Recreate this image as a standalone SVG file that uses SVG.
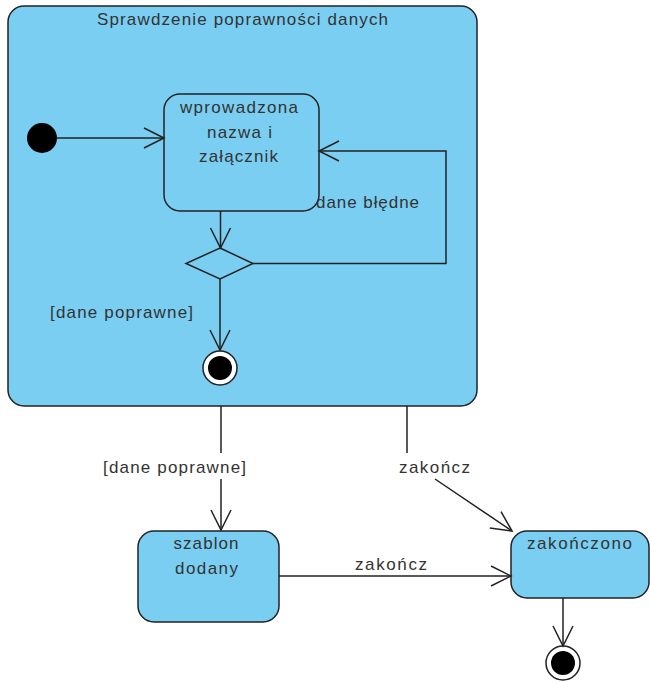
<svg xmlns="http://www.w3.org/2000/svg" width="650" height="683" viewBox="0 0 650 683">
  <style>
    .state { fill: #7ACEF2; stroke: #222; stroke-width: 1.5; }
    .edge { fill: none; stroke: #222; stroke-width: 1.5; }
    .txt { font-family: "Liberation Sans", Arial, sans-serif; font-size: 17px; fill: #333; }
    .c { text-anchor: middle; }
  </style>
  <defs>
    <marker id="arr" markerUnits="userSpaceOnUse" markerWidth="24" markerHeight="24" viewBox="-22 -12 24 24" refX="0" refY="0" orient="auto">
      <path d="M-20,-10 L0,0 L-20,10" fill="none" stroke="#222" stroke-width="1.5"/>
    </marker>
  </defs>
  <rect width="650" height="683" fill="#ffffff"/>

  <g id="composite">
    <rect class="state" x="8" y="6" width="469" height="400" rx="16" ry="16"/>
    <text class="txt c" x="242.5" y="25" textLength="291" lengthAdjust="spacing">Sprawdzenie poprawności danych</text>
  </g>

  <g id="initial">
    <circle cx="42" cy="138" r="15" fill="#000"/>
  </g>

  <g id="wprowadzona">
    <rect class="state" x="164" y="94" width="155" height="117" rx="16" ry="16"/>
    <text class="txt c" x="239" y="113" textLength="118" lengthAdjust="spacing">wprowadzona</text>
    <text class="txt c" x="239.5" y="138" textLength="65" lengthAdjust="spacing">nazwa i</text>
    <text class="txt c" x="238.5" y="162" textLength="79" lengthAdjust="spacing">załącznik</text>
  </g>

  <g id="decision">
    <polygon points="220,248 253,263.5 220,279 186,263.5" fill="#7ACEF2" stroke="#222" stroke-width="1.5"/>
  </g>

  <g id="final-inner">
    <circle cx="220" cy="368" r="17" fill="#fff" stroke="#222" stroke-width="1.5"/>
    <circle cx="220" cy="368" r="12" fill="#000"/>
  </g>

  <g id="szablon">
    <rect class="state" x="138" y="531" width="141" height="91" rx="16" ry="16"/>
    <text class="txt c" x="206" y="549" textLength="65" lengthAdjust="spacing">szablon</text>
    <text class="txt c" x="206.5" y="574" textLength="63" lengthAdjust="spacing">dodany</text>
  </g>

  <g id="zakonczono">
    <rect class="state" x="511" y="531" width="138" height="67" rx="16" ry="16"/>
    <text class="txt c" x="579.5" y="549" textLength="105" lengthAdjust="spacing">zakończono</text>
  </g>

  <g id="final-outer">
    <circle cx="563" cy="663" r="17" fill="#fff" stroke="#222" stroke-width="1.5"/>
    <circle cx="563" cy="663" r="12" fill="#000"/>
  </g>

  <g id="connectors">
    <line class="edge" x1="57" y1="138" x2="164" y2="138" marker-end="url(#arr)"/>
    <line class="edge" x1="220.5" y1="211" x2="220.5" y2="248" marker-end="url(#arr)"/>
    <polyline class="edge" points="253,263.5 446,263.5 446,151 319,151" marker-end="url(#arr)"/>
    <line class="edge" x1="220" y1="279" x2="220" y2="350" marker-end="url(#arr)"/>
    <line class="edge" x1="221" y1="406" x2="221" y2="453"/>
    <line class="edge" x1="221" y1="479" x2="221" y2="530" marker-end="url(#arr)"/>
    <line class="edge" x1="407" y1="406" x2="407" y2="453"/>
    <line class="edge" x1="435" y1="479" x2="512" y2="531" marker-end="url(#arr)"/>
    <line class="edge" x1="279" y1="576" x2="511" y2="576" marker-end="url(#arr)"/>
    <line class="edge" x1="563" y1="598" x2="563" y2="646" marker-end="url(#arr)"/>
  </g>

  <g id="labels">
    <text class="txt" x="316" y="208" textLength="103" lengthAdjust="spacing">dane błędne</text>
    <text class="txt" x="50" y="318" textLength="143" lengthAdjust="spacing">[dane poprawne]</text>
    <text class="txt" x="103" y="473" textLength="143" lengthAdjust="spacing">[dane poprawne]</text>
    <text class="txt" x="399" y="473" textLength="71" lengthAdjust="spacing">zakończ</text>
    <text class="txt" x="355" y="570" textLength="72" lengthAdjust="spacing">zakończ</text>
  </g>
</svg>
